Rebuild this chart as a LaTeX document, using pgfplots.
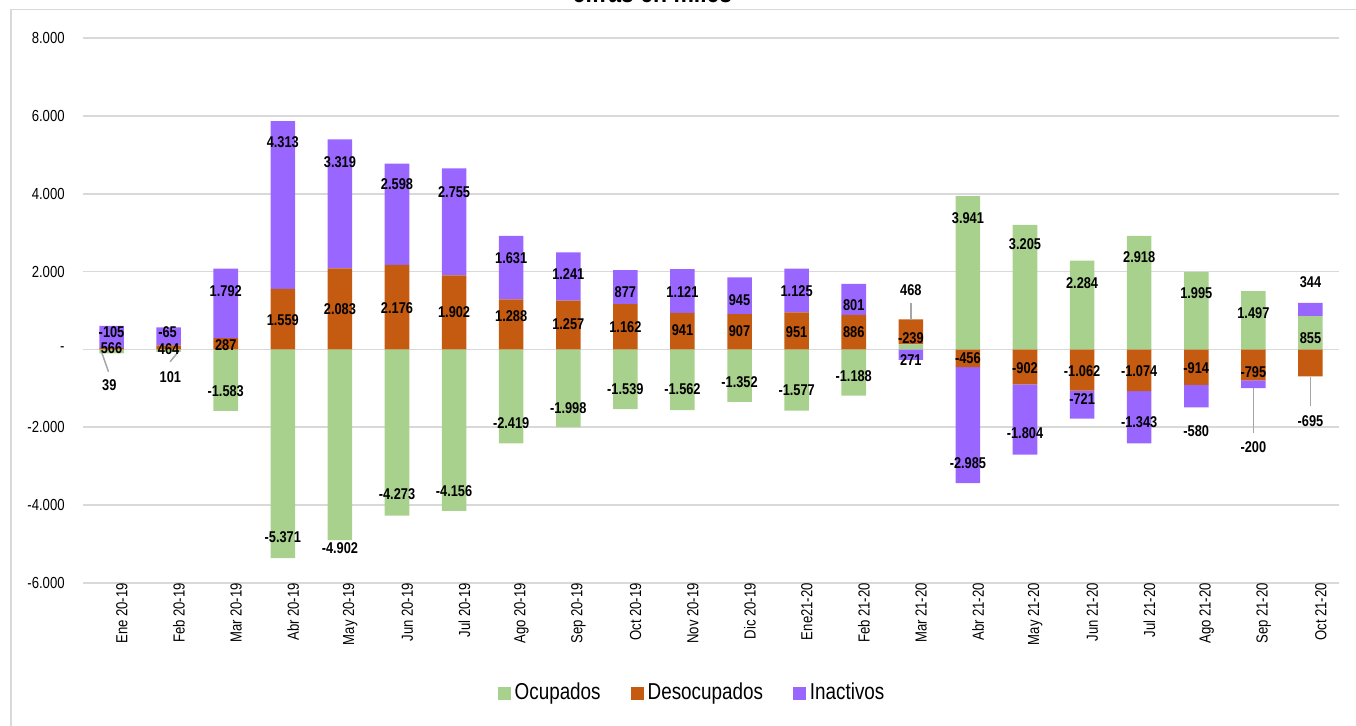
\documentclass[border=0pt]{standalone}
\usepackage{pgfplots}
\usepackage{pgfplotstable}
\pgfplotsset{compat=1.18}
\usepackage{fontspec}
\setmainfont{Liberation Sans}
\newfontfamily\nar[FakeStretch=0.82]{Liberation Sans}
\definecolor{cgreen}{HTML}{A9D18E}
\definecolor{corange}{HTML}{C55A11}
\definecolor{cpurple}{HTML}{9966FF}
\definecolor{cgrid}{HTML}{D9D9D9}
\definecolor{clead}{HTML}{A6A6A6}

% positive parts (gp op pp) and negative parts (gn on pn)
\pgfplotstableread{
x  gp   op   pp    gn     on     pn
0  0    39   566   -105   0      0
1  0    101  464   -65    0      0
2  0    287  1792  -1583  0      0
3  0    1559 4313  -5371  0      0
4  0    2083 3319  -4902  0      0
5  0    2176 2598  -4273  0      0
6  0    1902 2755  -4156  0      0
7  0    1288 1631  -2419  0      0
8  0    1257 1241  -1998  0      0
9  0    1162 877   -1539  0      0
10 0    941  1121  -1562  0      0
11 0    907  945   -1352  0      0
12 0    951  1125  -1577  0      0
13 0    886  801   -1188  0      0
14 130  640  0     0      0      -271
15 3941 0    0     0      -456   -2985
16 3205 0    0     0      -902   -1804
17 2284 0    0     0      -1062  -721
18 2918 0    0     0      -1074  -1343
19 1995 0    0     0      -914   -580
20 1497 0    0     0      -795   -200
21 855  0    344   0      -695   0
}\bars

\pgfplotstableread{
x      y      lab
0      455    -105
0      44     566
-0.04  -915   39
0.98   455    -65
1.0    3      464
1.03   -702   101
2      1509   1.792
2      113    287
2      -1062  -1.583
3      5332   4.313
3      756    1.559
3      -4823  -5.371
4      4818   3.319
4      1031   2.083
4      -5106  -4.902
5      4253   2.598
5      1072   2.176
5      -3718  -4.273
6      4047   2.755
6      962    1.902
6      -3641  -4.156
7      2350   1.631
7      859    1.288
7      -1902  -2.419
8      1938   1.241
8      653    1.257
8      -1517  -1.998
9      1476   877
9      576    1.162
9      -1028  -1.539
10     1476   1.121
10     499    941
10     -1028  -1.562
11     1270   945
11     473    907
11     -848   -1.352
12     1509   1.125
12     455    951
12     -1044  -1.577
13     1142   801
13     455    886
13     -684   -1.188
14     1527   468
14     285    -239
14     -273   271
15     3378   3.941
15     -229   -456
15     -2928  -2.985
16     2710   3.205
16     -486   -902
16     -2157  -1.804
17     1699   2.284
17     -548   -1.062
17     -1275  -721
18     2368   2.918
18     -548   -1.074
18     -1874  -1.343
19     1442   1.995
19     -486   -914
19     -2090  -580
20     928    1.497
20     -573   -795
20     -2502  -200
21     1741   344
21     285    855
21     -1833  -695
}\labels

\begin{document}
\begin{tikzpicture}
\path[use as bounding box, clip] (0pt,0pt) rectangle (678pt,362.5pt);
\draw[cgrid, line width=0.6pt] (5.5pt,-20pt) -- (5.5pt,357.85pt) -- (700pt,357.85pt);
\node[anchor=base, inner sep=0pt, font=\nar\bfseries\fontsize{14}{16}\selectfont] at (326.25pt,361.15pt) {cifras en miles};

\begin{axis}[
  at={(41.5pt,71.15pt)}, anchor=south west,
  scale only axis, width=628pt, height=272.2pt,
  xmin=-0.5, xmax=21.5, ymin=-6000, ymax=8000,
  ybar stacked, bar width=0.43,
  axis line style={draw=none},
  major tick length=0pt,
  ymajorgrids, grid style={cgrid, line width=0.85pt},
  ytick={-6000,-4000,-2000,0,2000,4000,6000,8000},
  yticklabels={-6.000,-4.000,-2.000,{-\hspace{3pt}},2.000,4.000,6.000,8.000},
  yticklabel style={anchor=east, inner sep=0pt, xshift=-9pt, font=\nar\fontsize{8}{9.6}\selectfont},
  xtick={0,...,21},
  xticklabels={Ene 20-19,Feb 20-19,Mar 20-19,Abr 20-19,May 20-19,Jun 20-19,Jul 20-19,Ago 20-19,Sep 20-19,Oct 20-19,Nov 20-19,Dic 20-19,Ene21-20,Feb 21-20,Mar 21-20,Abr 21-20,May 21-20,Jun 21-20,Jul 21-20,Ago 21-20,Sep 21-20,Oct 21-20},
  xticklabel style={rotate=90, anchor=east, inner sep=0pt, yshift=-5.15pt, font=\nar\fontsize{8}{9.6}\selectfont},
  legend style={at={(0.4857,-0.2026)}, anchor=center, draw=none, fill=none,
    legend columns=-1, font=\nar\fontsize{11.5}{13}\selectfont,
    /tikz/every even column/.append style={column sep=13pt},
    /tikz/every odd column/.append style={column sep=0pt}},
  legend image code/.code={\fill[#1] (0pt,-3.25pt) rectangle (6.5pt,3.25pt);},
]
\addplot[fill=cgreen, draw=none] table[x=x, y=gp] \bars;
\addlegendentry{Ocupados}
\addplot[fill=corange, draw=none] table[x=x, y=op] \bars;
\addlegendentry{Desocupados}
\addplot[fill=cpurple, draw=none] table[x=x, y=pp] \bars;
\addlegendentry{Inactivos}
\addplot[fill=cgreen, draw=none, forget plot] table[x=x, y=gn] \bars;
\addplot[fill=corange, draw=none, forget plot] table[x=x, y=on] \bars;
\addplot[fill=cpurple, draw=none, forget plot] table[x=x, y=pn] \bars;
\end{axis}

\begin{axis}[
  at={(41.5pt,71.15pt)}, anchor=south west,
  scale only axis, width=628pt, height=272.2pt,
  xmin=-0.5, xmax=21.5, ymin=-6000, ymax=8000,
  hide axis, clip=false,
]
\addplot[clead, line width=0.75pt, mark=none] coordinates {(-0.187,-15) (-0.054,-573)};
\addplot[clead, line width=0.75pt, mark=none] coordinates {(1.026,-316) (1.172,-59)};
\addplot[clead, line width=0.75pt, mark=none] coordinates {(14,1201) (14,756)};
\addplot[clead, line width=0.75pt, mark=none] coordinates {(20,-1000) (20,-2142)};
\addplot[clead, line width=0.75pt, mark=none] coordinates {(21,-702) (21,-1455)};
\addplot[draw=none, mark=none, nodes near coords, point meta=explicit symbolic,
  every node near coord/.append style={anchor=center, inner sep=0pt, text=black,
    font=\nar\bfseries\fontsize{7.8}{9}\selectfont}]
  table[x=x, y=y, meta=lab] \labels;
\end{axis}
\end{tikzpicture}
\end{document}
